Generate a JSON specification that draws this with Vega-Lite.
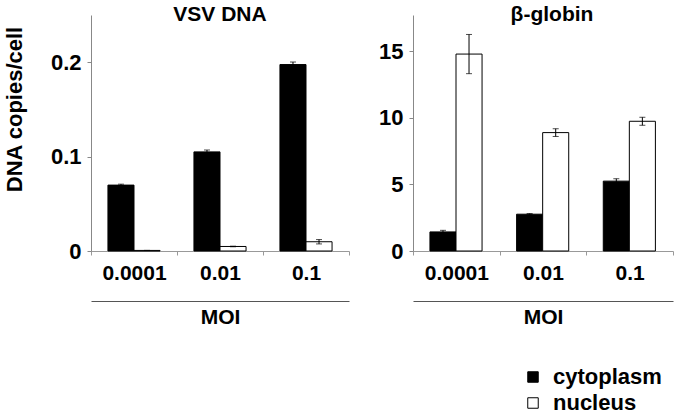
{
  "$schema": "https://vega.github.io/schema/vega-lite/v6.json",
  "padding": {"left": 3, "top": 4, "right": 5, "bottom": 5},
  "background": "white",
  "config": {
    "font": "Liberation Sans",
    "view": {"stroke": null},
    "axis": {"grid": false},
    "concat": {"spacing": 28}
  },
  "data": {
    "values": [
      {"panel": "VSV", "moi": "0.0001", "compartment": "cytoplasm", "value": 0.0698, "lo": 0.0688, "hi": 0.0708},
      {"panel": "VSV", "moi": "0.0001", "compartment": "nucleus", "value": 0.0006, "lo": 0.0006, "hi": 0.0006},
      {"panel": "VSV", "moi": "0.01", "compartment": "cytoplasm", "value": 0.105, "lo": 0.103, "hi": 0.107},
      {"panel": "VSV", "moi": "0.01", "compartment": "nucleus", "value": 0.0048, "lo": 0.0045, "hi": 0.0051},
      {"panel": "VSV", "moi": "0.1", "compartment": "cytoplasm", "value": 0.1975, "lo": 0.1948, "hi": 0.2002},
      {"panel": "VSV", "moi": "0.1", "compartment": "nucleus", "value": 0.0098, "lo": 0.0075, "hi": 0.0121},
      {"panel": "globin", "moi": "0.0001", "compartment": "cytoplasm", "value": 1.43, "lo": 1.31, "hi": 1.55},
      {"panel": "globin", "moi": "0.0001", "compartment": "nucleus", "value": 14.77, "lo": 13.3, "hi": 16.24},
      {"panel": "globin", "moi": "0.01", "compartment": "cytoplasm", "value": 2.76, "lo": 2.71, "hi": 2.81},
      {"panel": "globin", "moi": "0.01", "compartment": "nucleus", "value": 8.88, "lo": 8.59, "hi": 9.17},
      {"panel": "globin", "moi": "0.1", "compartment": "cytoplasm", "value": 5.24, "lo": 5.06, "hi": 5.42},
      {"panel": "globin", "moi": "0.1", "compartment": "nucleus", "value": 9.73, "lo": 9.43, "hi": 10.03}
    ]
  },
  "hconcat": [
    {
      "width": 258,
      "height": 236,
      "title": {"text": "VSV DNA", "fontSize": 21, "fontWeight": "bold", "offset": -10, "anchor": "middle", "color": "black"},
      "transform": [{"filter": "datum.panel === 'VSV'"}],
      "resolve": {"axis": {"x": "independent"}},
      "encoding": {
        "x": {"field": "moi", "type": "nominal", "sort": null,
              "scale": {"paddingInner": 0, "paddingOuter": 0}},
        "xOffset": {"field": "compartment", "type": "nominal",
                    "scale": {"paddingInner": 0, "paddingOuter": 0.65}}
      },
      "layer": [
        {
          "mark": {"type": "bar", "stroke": "black", "strokeWidth": 1},
          "encoding": {
            "x": {"field": "moi", "type": "nominal", "sort": null,
                  "axis": {"title": null, "labelAngle": 0, "tickBand": "extent", "domainColor": "#999", "tickColor": "#999", "tickSize": 4, "labelFontSize": 21, "labelFontWeight": "bold", "labelColor": "black", "labelPadding": 7, "labelDx": -8}},
            "y": {"field": "value", "type": "quantitative",
                  "scale": {"domain": [0, 0.25], "nice": false},
                  "axis": {"title": "DNA copies/cell", "values": [0, 0.1, 0.2], "format": "~g", "domainColor": "#888", "tickColor": "#888", "tickSize": 4, "labelFontSize": 22, "labelFontWeight": "bold", "labelColor": "black", "labelPadding": 6, "titleFontSize": 22, "titleFontWeight": "bold", "titleColor": "black", "titlePadding": 24, "titleY": 94}},
            "fill": {"field": "compartment", "type": "nominal",
                     "scale": {"domain": ["cytoplasm", "nucleus"], "range": ["black", "white"]},
                     "legend": {"orient": "none", "legendX": 431, "legendY": 351, "title": null, "symbolType": "square", "symbolSize": 110, "symbolStrokeColor": "black", "symbolStrokeWidth": 1, "labelFontSize": 22, "labelFontWeight": "bold", "labelColor": "black", "labelOffset": 9, "rowPadding": 4}}
          }
        },
        {
          "mark": {"type": "rule", "color": "black", "strokeWidth": 1},
          "encoding": {
            "x": {"field": "moi", "type": "nominal", "sort": null,
                  "axis": {"orient": "bottom", "offset": 50, "labels": false, "ticks": false, "domainColor": "#555", "domainWidth": 1.2, "title": "MOI", "titleFontSize": 21, "titleFontWeight": "bold", "titleColor": "black", "titlePadding": 5}},
            "y": {"field": "lo", "type": "quantitative"},
            "y2": {"field": "hi"}
          }
        },
        {
          "mark": {"type": "tick", "color": "black", "size": 6, "thickness": 1},
          "encoding": {"x": {"field": "moi", "type": "nominal", "sort": null, "axis": null}, "y": {"field": "lo", "type": "quantitative"}}
        },
        {
          "mark": {"type": "tick", "color": "black", "size": 6, "thickness": 1},
          "encoding": {"x": {"field": "moi", "type": "nominal", "sort": null, "axis": null}, "y": {"field": "hi", "type": "quantitative"}}
        }
      ]
    },
    {
      "width": 260,
      "height": 236,
      "title": {"text": "β-globin", "fontSize": 21, "fontWeight": "bold", "offset": -10, "anchor": "middle", "color": "black", "dx": 9},
      "transform": [{"filter": "datum.panel === 'globin'"}],
      "resolve": {"axis": {"x": "independent"}},
      "encoding": {
        "x": {"field": "moi", "type": "nominal", "sort": null,
              "scale": {"paddingInner": 0, "paddingOuter": 0}},
        "xOffset": {"field": "compartment", "type": "nominal",
                    "scale": {"paddingInner": 0, "paddingOuter": 0.65}}
      },
      "layer": [
        {
          "mark": {"type": "bar", "stroke": "black", "strokeWidth": 1},
          "encoding": {
            "x": {"field": "moi", "type": "nominal", "sort": null,
                  "axis": {"title": null, "labelAngle": 0, "tickBand": "extent", "domainColor": "#999", "tickColor": "#999", "tickSize": 4, "labelFontSize": 21, "labelFontWeight": "bold", "labelColor": "black", "labelPadding": 7, "labelDx": -4}},
            "y": {"field": "value", "type": "quantitative",
                  "scale": {"domain": [0, 17.7], "nice": false},
                  "axis": {"title": null, "values": [0, 5, 10, 15], "format": "~g", "domainColor": "#888", "tickColor": "#888", "tickSize": 4, "labelFontSize": 22, "labelFontWeight": "bold", "labelColor": "black", "labelPadding": 6}},
            "fill": {"field": "compartment", "type": "nominal"}
          }
        },
        {
          "mark": {"type": "rule", "color": "black", "strokeWidth": 1},
          "encoding": {
            "x": {"field": "moi", "type": "nominal", "sort": null,
                  "axis": {"orient": "bottom", "offset": 50, "labels": false, "ticks": false, "domainColor": "#555", "domainWidth": 1.2, "title": "MOI", "titleFontSize": 21, "titleFontWeight": "bold", "titleColor": "black", "titlePadding": 5}},
            "y": {"field": "lo", "type": "quantitative"},
            "y2": {"field": "hi"}
          }
        },
        {
          "mark": {"type": "tick", "color": "black", "size": 6, "thickness": 1},
          "encoding": {"x": {"field": "moi", "type": "nominal", "sort": null, "axis": null}, "y": {"field": "lo", "type": "quantitative"}}
        },
        {
          "mark": {"type": "tick", "color": "black", "size": 6, "thickness": 1},
          "encoding": {"x": {"field": "moi", "type": "nominal", "sort": null, "axis": null}, "y": {"field": "hi", "type": "quantitative"}}
        }
      ]
    }
  ]
}
